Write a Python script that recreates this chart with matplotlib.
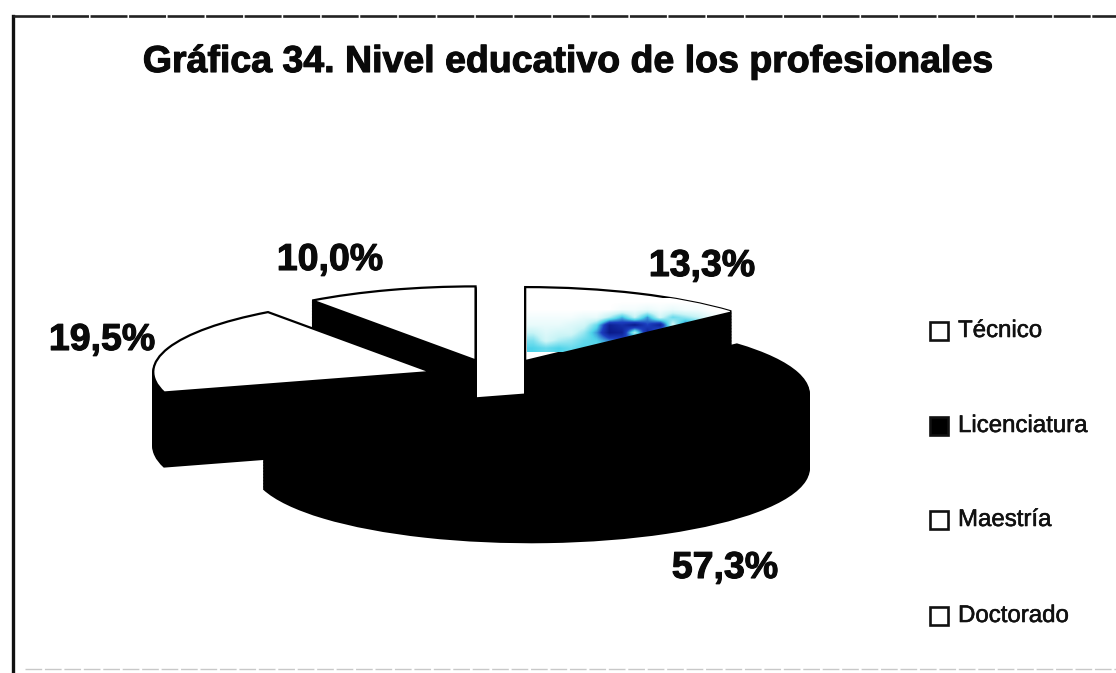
import numpy as np
import matplotlib
matplotlib.use("Agg")
import matplotlib.pyplot as plt
import matplotlib.patheffects as pe
from matplotlib.colors import LinearSegmentedColormap

plt.rcParams['font.family'] = ['Liberation Sans', 'DejaVu Sans']

title = "Gráfica 34. Nivel educativo de los profesionales"
categories = ["Técnico", "Licenciatura", "Maestría", "Doctorado"]
values = [13.3, 57.3, 19.5, 10.0]
value_labels = ["13,3%", "57,3%", "19,5%", "10,0%"]
explode = [0.25, 0.25, 0.25, 0.25]

W, H = 1116, 673
cx, cy = 497, 378   # pie centre in pixels
rx, ry = 278, 74    # squashed radius
depth = 74

fig = plt.figure(figsize=(W / 100, H / 100), dpi=100, facecolor='white')
ax = fig.add_axes([0, 0, 1, 1])

# draw order of the slices, back to front
order = {"Doctorado": 1, "Técnico": 2, "Maestría": 3, "Licenciatura": 4}


def layer(offset, colors, z, edge):
    wedges, _ = ax.pie(values, explode=explode, colors=colors, startangle=90,
                       counterclock=False, center=(0, offset), radius=1,
                       wedgeprops=dict(edgecolor=edge, linewidth=1.6))
    for w, name in zip(wedges, categories):
        w.set_zorder(order[name] * 10 + z)
    return wedges


# side walls are black pies stacked downwards
for off in np.linspace(-depth / ry, -0.02, 50):
    layer(off, ['black'] * 4, 0, 'black')
top = layer(0, ['white', 'black', 'white', 'white'], 5, 'black')

ax.set_aspect('auto')
ax.set_xlim(-cx / rx, (W - cx) / rx)
ax.set_ylim(-(H - cy) / ry, cy / ry)
ax.axis('off')

# pixel coordinate overlay for text and frame
ov = fig.add_axes([0, 0, 1, 1], facecolor='none')
ov.axis('off')

# blue scanned shading on the Técnico slice
shade = np.array([
    [0.00, 0.00, 0.00, 0.00, 0.00, 0.00, 0.00, 0.00, 0.00, 0.00, 0.00, 0.00, 0.00, 0.00, 0.00, 0.00],
    [0.00, 0.00, 0.00, 0.00, 0.00, 0.00, 0.00, 0.05, 0.05, 0.10, 0.05, 0.10, 0.05, 0.05, 0.00, 0.00],
    [0.05, 0.05, 0.05, 0.05, 0.10, 0.10, 0.30, 0.55, 0.25, 0.60, 0.20, 0.45, 0.35, 0.25, 0.10, 0.00],
    [0.10, 0.10, 0.10, 0.15, 0.20, 0.45, 0.95, 0.85, 1.00, 0.75, 0.95, 0.20, 0.70, 0.60, 0.30, 0.10],
    [0.25, 0.15, 0.20, 0.20, 0.35, 0.60, 1.00, 0.95, 0.30, 0.95, 0.50, 0.85, 0.30, 0.50, 0.30, 0.10],
    [0.40, 0.20, 0.30, 0.35, 0.45, 0.50, 0.65, 0.70, 0.80, 0.60, 0.60, 0.40, 0.40, 0.30, 0.20, 0.10],
    [0.50, 0.45, 0.50, 0.45, 0.50, 0.45, 0.50, 0.50, 0.50, 0.50, 0.40, 0.30, 0.30, 0.20, 0.20, 0.10],
])
cmap = LinearSegmentedColormap.from_list("tec", ["#ffffff", "#c8f4f6", "#4fd4ea", "#1c3fc0", "#0a1a8a"])
im = ov.imshow(shade, cmap=cmap, vmin=0, vmax=1, extent=(527, 730, 352, 298),
               aspect='auto', interpolation='bilinear', zorder=1)
ov.set_xlim(0, W)
ov.set_ylim(H, 0)
im.set_clip_path(top[0])

heavy = [pe.withStroke(linewidth=0.8, foreground='#0a0a0a')]
ov.text(568, 62, title, fontsize=27, fontweight='bold', ha='center', va='center',
        color='#0a0a0a', path_effects=heavy)

label_pos = [(702, 266), (725, 568), (102, 340), (330, 260)]
for txt, (x, y) in zip(value_labels, label_pos):
    ov.text(x, y, txt, fontsize=27, fontweight='bold', ha='center', va='center',
            color='#0a0a0a', path_effects=heavy)

legend_y = [331, 426, 520, 616]
legend_fill = ['white', 'black', 'white', 'white']
for name, y, fc in zip(categories, legend_y, legend_fill):
    ov.plot([939], [y], marker='s', markersize=12.5, markerfacecolor=fc,
            markeredgecolor='#111111', markeredgewidth=1.9, linestyle='none')
    ov.text(958, y, name, fontsize=17.3, ha='left', va='center', color='#111111',
            path_effects=[pe.withStroke(linewidth=0.4, foreground='#111111')])

# hand drawn looking frame
ov.plot([13, 13], [16, 673], color='#111111', linewidth=2.4)
ov.plot([13, 1116], [16, 16], color='#222222', linewidth=1.9, linestyle=(0, (14, 0.6)))
ov.plot([25, 1116], [669, 669], color='#c8c8c8', linewidth=1.0, linestyle=(0, (12, 2)))
ov.set_xlim(0, W)
ov.set_ylim(H, 0)

fig.savefig("out.png", dpi=100)
